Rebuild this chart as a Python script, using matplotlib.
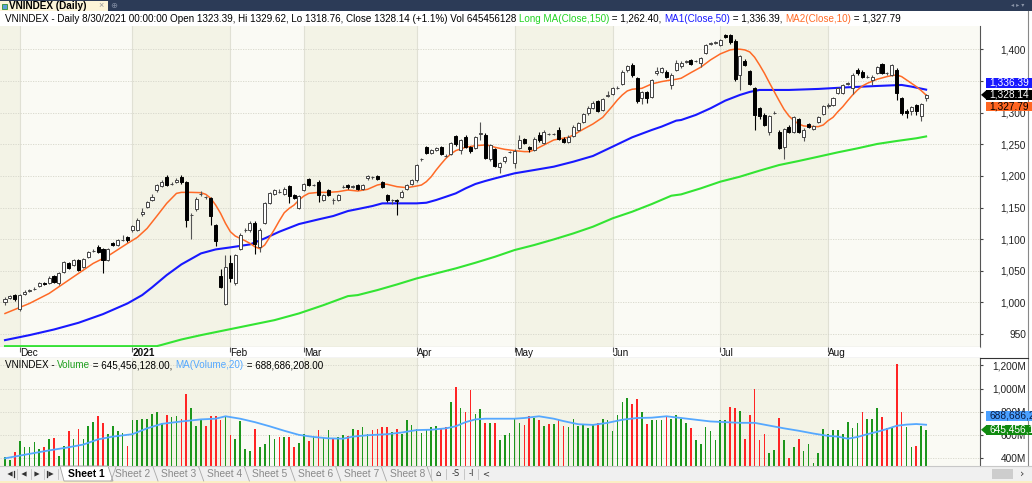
import numpy as np
import matplotlib
matplotlib.use('Agg')
import matplotlib.pyplot as plt
from matplotlib.patches import Rectangle, Polygon
from matplotlib.ticker import FixedLocator, FuncFormatter

W, H = 1032, 483
plt.rcParams['font.family'] = ['Liberation Sans', 'DejaVu Sans']

# ---- daily candles, one per trading day (26 Nov 2020 .. 30 Aug 2021) ----
opens = [1001, 1007, 1012, 989, 1013, 1018, 1022, 1026, 1030, 1031,
         1041, 1030, 1048, 1062, 1059, 1067, 1056, 1072, 1082, 1088,
         1084, 1067, 1094, 1091, 1099, 1103, 1114, 1115, 1140, 1151,
         1162, 1177, 1184, 1199, 1188, 1191, 1199, 1190, 1138, 1147,
         1171, 1166, 1165, 1122, 1041, 998, 1062, 1030, 1085, 1114,
         1114, 1126, 1088, 1126, 1157, 1172, 1175, 1172, 1184, 1170,
         1149, 1178, 1195, 1186, 1191, 1162, 1178, 1162, 1162, 1183,
         1186, 1183, 1186, 1179, 1196, 1198, 1200, 1190, 1170, 1162,
         1162, 1167, 1179, 1187, 1193, 1226, 1245, 1236, 1241, 1246,
         1232, 1235, 1263, 1241, 1262, 1245, 1244, 1267, 1265, 1226,
         1242, 1214, 1223, 1238, 1221, 1244, 1258, 1246, 1241, 1265,
         1252, 1266, 1266, 1273, 1259, 1254, 1263, 1273, 1286, 1299,
         1308, 1318, 1304, 1327, 1330, 1339, 1345, 1367, 1376, 1355,
         1323, 1333, 1325, 1362, 1365, 1365, 1344, 1368, 1373, 1380,
         1383, 1382, 1378, 1394, 1409, 1410, 1407, 1423, 1422, 1414,
         1360, 1382, 1366, 1339, 1307, 1297, 1270, 1300, 1270, 1246,
         1278, 1270, 1290, 1262, 1282, 1274, 1286, 1298, 1310, 1312,
         1331, 1331, 1346, 1339, 1368, 1365, 1357, 1352, 1363, 1377,
         1362, 1360, 1368, 1323, 1303, 1302, 1312, 1295, 1323.39]
highs = [1008, 1012, 1014, 1014, 1019, 1021, 1024, 1032, 1032, 1041,
         1043, 1048, 1066, 1064, 1069, 1069, 1070, 1082, 1085, 1090,
         1086, 1086, 1096, 1101, 1107, 1105, 1123, 1133, 1150, 1160,
         1172, 1188, 1193, 1201, 1190, 1196, 1201, 1192, 1141, 1166,
         1176, 1169, 1167, 1124, 1053, 1075, 1075, 1077, 1109, 1117,
         1128, 1128, 1117, 1159, 1175, 1179, 1180, 1182, 1186, 1172,
         1170, 1189, 1197, 1188, 1193, 1172, 1180, 1165, 1172, 1185,
         1188, 1186, 1188, 1188, 1202, 1200, 1202, 1192, 1172, 1164,
         1164, 1177, 1188, 1195, 1219, 1229, 1247, 1243, 1246, 1248,
         1234, 1254, 1265, 1258, 1264, 1247, 1263, 1286, 1268, 1251,
         1244, 1222, 1232, 1240, 1242, 1265, 1260, 1248, 1261, 1270,
         1272, 1268, 1268, 1278, 1261, 1264, 1280, 1285, 1300, 1310,
         1318, 1320, 1323, 1334, 1341, 1342, 1367, 1375, 1378, 1357,
         1335, 1335, 1353, 1372, 1372, 1367, 1362, 1383, 1381, 1383,
         1385, 1384, 1388, 1409, 1412, 1413, 1417, 1425, 1424, 1416,
         1391, 1385, 1368, 1341, 1309, 1299, 1297, 1303, 1272, 1276,
         1280, 1295, 1292, 1275, 1284, 1281, 1295, 1312, 1315, 1325,
         1341, 1346, 1349, 1362, 1370, 1367, 1359, 1359, 1374, 1379,
         1364, 1377, 1370, 1325, 1305, 1311, 1314, 1315, 1329.62]
lows = [996, 1005, 1003, 987, 1011, 1016, 1020, 1024, 1027, 1029,
        1030, 1028, 1046, 1053, 1057, 1050, 1054, 1070, 1080, 1078,
        1047, 1065, 1089, 1089, 1097, 1096, 1112, 1113, 1137, 1149,
        1160, 1175, 1182, 1184, 1186, 1189, 1188, 1120, 1100, 1145,
        1168, 1164, 1122, 1089, 1023, 996, 1033, 1028, 1083, 1112,
        1112, 1076, 1080, 1124, 1155, 1170, 1173, 1170, 1157, 1163,
        1147, 1176, 1184, 1184, 1159, 1160, 1168, 1155, 1160, 1181,
        1180, 1181, 1177, 1177, 1193, 1195, 1193, 1181, 1158, 1155,
        1138, 1165, 1177, 1185, 1191, 1224, 1235, 1234, 1239, 1233,
        1230, 1233, 1248, 1235, 1244, 1236, 1242, 1257, 1226, 1224,
        1214, 1205, 1221, 1236, 1213, 1242, 1250, 1238, 1239, 1254,
        1250, 1264, 1264, 1256, 1252, 1252, 1261, 1271, 1284, 1297,
        1306, 1301, 1302, 1325, 1328, 1337, 1343, 1365, 1357, 1316,
        1314, 1315, 1323, 1360, 1363, 1355, 1337, 1366, 1371, 1378,
        1375, 1380, 1372, 1392, 1407, 1408, 1405, 1418, 1409, 1350,
        1336, 1374, 1344, 1273, 1290, 1279, 1265, 1298, 1242, 1226,
        1268, 1268, 1268, 1255, 1275, 1272, 1284, 1296, 1308, 1310,
        1329, 1329, 1344, 1330, 1360, 1355, 1355, 1343, 1361, 1361,
        1360, 1358, 1320, 1297, 1292, 1297, 1297, 1287, 1318.76]
closes = [1006, 1010, 1005, 1012, 1017, 1019, 1022, 1030, 1029, 1039,
          1032, 1046, 1064, 1055, 1067, 1052, 1068, 1080, 1082, 1080,
          1067, 1084, 1091, 1099, 1099, 1098, 1121, 1131, 1143, 1158,
          1167, 1186, 1191, 1186, 1188, 1194, 1190, 1131, 1138, 1164,
          1172, 1166, 1137, 1097, 1025, 1056, 1038, 1075, 1107, 1115,
          1126, 1093, 1115, 1157, 1173, 1177, 1175, 1179, 1168, 1165,
          1168, 1187, 1186, 1186, 1170, 1170, 1170, 1162, 1170, 1183,
          1182, 1184, 1179, 1186, 1200, 1198, 1195, 1183, 1162, 1162,
          1161, 1175, 1186, 1193, 1217, 1226, 1237, 1241, 1244, 1235,
          1232, 1252, 1250, 1256, 1246, 1240, 1261, 1268, 1228, 1249,
          1216, 1220, 1230, 1238, 1240, 1257, 1252, 1242, 1259, 1256,
          1270, 1266, 1266, 1258, 1254, 1262, 1278, 1283, 1298, 1308,
          1316, 1303, 1321, 1328, 1339, 1339, 1365, 1373, 1359, 1318,
          1333, 1323, 1351, 1366, 1370, 1357, 1360, 1378, 1379, 1381,
          1377, 1382, 1386, 1407, 1410, 1411, 1415, 1420, 1411, 1354,
          1389, 1376, 1346, 1296, 1295, 1281, 1295, 1300, 1244, 1274,
          1270, 1293, 1270, 1273, 1277, 1279, 1293, 1310, 1312, 1323,
          1339, 1344, 1347, 1360, 1362, 1357, 1357, 1357, 1372, 1363,
          1362, 1375, 1331, 1299, 1299, 1309, 1302, 1313, 1328.14]

# volume, millions of shares
volume = [409, 385, 453, 548, 495, 498, 539, 480, 498, 569,
          578, 421, 510, 634, 563, 652, 563, 676, 711, 764,
          705, 607, 676, 631, 622, 510, 732, 732, 741, 741,
          785, 800, 705, 770, 756, 764, 735, 954, 830, 676,
          735, 676, 764, 764, 726, 764, 599, 569, 717, 480,
          465, 652, 498, 519, 599, 563, 584, 584, 584, 498,
          533, 607, 548, 593, 646, 578, 643, 578, 584, 599,
          593, 652, 646, 667, 607, 646, 652, 667, 667, 628,
          652, 607, 726, 687, 652, 622, 652, 667, 681, 652,
          667, 883, 1013, 836, 800, 984, 785, 821, 702, 702,
          702, 554, 599, 622, 735, 702, 687, 764, 747, 726,
          676, 696, 696, 726, 676, 673, 735, 681, 687, 658,
          687, 702, 741, 726, 637, 776, 883, 919, 865, 910,
          800, 696, 726, 726, 726, 756, 735, 776, 741, 702,
          658, 554, 527, 673, 637, 554, 726, 726, 839, 830,
          809, 563, 776, 993, 557, 607, 444, 474, 750, 554,
          406, 498, 563, 465, 524, 361, 450, 652, 613, 643,
          643, 613, 711, 658, 702, 800, 741, 741, 830, 756,
          658, 673, 1209, 794, 673, 495, 510, 676, 645.456]

# moving averages (day index, value)
ma150_x = [0, 10, 20, 28, 31, 32, 36, 40, 45, 50, 55, 60, 65, 70, 72, 76, 80,
           84, 88, 92, 96, 100, 104, 108, 112, 116, 120, 124, 128, 132, 136,
           138, 142, 146, 150, 154, 158, 162, 166, 170, 174, 178, 182, 186, 188]
ma150_v = [905, 912, 920, 926, 929.5, 932.9, 941.4, 948.3, 956.2, 964.1, 972.0,
           982.6, 995.7, 1010.0, 1011.6, 1019.5, 1028.4, 1037.9, 1045.9, 1053.8,
           1062.7, 1072.2, 1082.8, 1090.7, 1099.6, 1109.1, 1119.7, 1132.9, 1143.4,
           1155.5, 1168.7, 1170.8, 1180.3, 1190.9, 1198.8, 1208.3, 1217.2, 1223.6,
           1230.4, 1237.3, 1243.6, 1250.5, 1255.2, 1259.5, 1262.40]

ma50_x = [0, 5, 10, 15, 20, 25, 28, 30, 33, 36, 40, 43, 46, 50, 53, 56, 60, 64,
          67, 70, 72, 75, 77, 80, 84, 86, 88, 90, 92, 94, 96, 98, 100, 104, 108,
          112, 116, 120, 124, 128, 132, 134, 137, 138, 141, 144, 147, 150, 152,
          154, 160, 166, 172, 178, 183, 185, 188]
ma50_v = [940.4, 948.3, 957.2, 967.8, 981.5, 998.4, 1011.6, 1023.7, 1043.2,
          1060.1, 1077.5, 1083.8, 1087.0, 1091.7, 1101.2, 1111.8, 1123.9, 1131.3,
          1136.6, 1144.5, 1147.6, 1152.4, 1156.6, 1156.6, 1156.6, 1157.6, 1161.9,
          1167.1, 1172.4, 1180.3, 1187.2, 1191.9, 1196.1, 1204.1, 1209.3, 1214.6,
          1222.5, 1231.5, 1246.2, 1261.0, 1272.6, 1277.9, 1287.4, 1288.4, 1296.4,
          1306.9, 1319.0, 1328.0, 1332.8, 1335.9, 1335.9, 1337.5, 1340.1, 1342.2,
          1343.8, 1341.2, 1336.39]

ma10_x = [0, 5, 9, 14, 18, 21, 25, 27, 29, 31, 33, 35, 36, 38, 40, 41, 42, 43,
          44, 45, 46, 47, 48, 49, 50, 51, 52, 53, 54, 55, 56, 57, 58, 59, 60, 61,
          62, 64, 66, 68, 70, 72, 74, 76, 77, 78, 80, 82, 84, 85, 86, 87, 88, 89,
          90, 91, 92, 94, 96, 98, 99, 100, 102, 104, 106, 107, 108, 110, 112, 114,
          115, 116, 118, 120, 122, 123, 124, 125, 126, 127, 128, 130, 132, 134,
          136, 137, 138, 140, 142, 144, 146, 148, 149, 150, 151, 152, 153, 154,
          155, 156, 157, 158, 159, 160, 161, 162, 163, 165, 166, 167, 168, 169,
          170, 171, 172, 173, 174, 175, 176, 178, 180, 181, 182, 183, 184, 185,
          186, 187, 188]
ma10_v = [982.5, 998.4, 1014.2, 1040.6, 1061.7, 1073.3, 1093.3, 1102.8, 1117.0,
          1136.6, 1156.6, 1172.4, 1174.0, 1174.0, 1173.5, 1170.8, 1164.5, 1153.9,
          1140.8, 1125.0, 1111.8, 1104.9, 1101.2, 1097.5, 1093.3, 1088.0, 1084.9,
          1090.7, 1102.8, 1115.5, 1129.2, 1141.8, 1148.7, 1153.9, 1161.9, 1168.2,
          1172.4, 1174.0, 1174.0, 1175.1, 1177.7, 1176.1, 1178.8, 1185.6, 1187.2,
          1186.7, 1183.0, 1181.4, 1184.0, 1185.6, 1190.9, 1198.8, 1209.3, 1218.8,
          1227.8, 1234.7, 1240.0, 1245.2, 1247.8, 1248.9, 1247.8, 1245.2, 1242.0,
          1240.0, 1238.4, 1238.4, 1241.0, 1248.9, 1256.8, 1259.5, 1261.0, 1264.7,
          1273.7, 1282.1, 1292.6, 1301.6, 1310.6, 1320.1, 1328.0, 1334.3, 1337.0,
          1338.5, 1345.4, 1349.1, 1351.7, 1352.8, 1354.4, 1363.3, 1371.8, 1383.4,
          1392.9, 1399.2, 1400.3, 1400.3, 1399.2, 1396.0, 1387.6, 1375.5, 1362.3,
          1347.5, 1333.3, 1319.0, 1305.3, 1294.8, 1287.4, 1282.1, 1279.0, 1277.9,
          1277.9, 1280.5, 1287.4, 1292.6, 1301.6, 1309.5, 1319.0, 1328.0, 1335.9,
          1342.2, 1346.4, 1352.8, 1357.0, 1358.6, 1359.6, 1357.0, 1351.7, 1346.4,
          1341.2, 1334.9, 1327.79]

vma_x = [0, 5, 9, 13, 16, 19, 22, 26, 29, 32, 36, 40, 43, 45, 48, 51, 54, 57,
         60, 63, 66, 69, 71, 74, 78, 81, 84, 87, 90, 92, 94, 96, 98, 100, 102,
         104, 106, 109, 112, 114, 117, 120, 123, 126, 129, 132, 135, 138, 141,
         144, 147, 150, 153, 156, 159, 162, 165, 168, 170, 172, 174, 176, 178,
         180, 182, 184, 186, 188]
vma_v = [400, 438.5, 468, 495, 518.5, 563, 586.7, 607.4, 657.8, 696.3, 717,
         734.8, 740.7, 761.5, 740.7, 711.1, 675.6, 637, 601.5, 583.7, 571.9,
         568.9, 586.7, 598.5, 607.4, 622.2, 643, 645.9, 657.8, 675.6, 711.1,
         734.8, 740.7, 740.7, 740.7, 740.7, 746.7, 761.5, 740.7, 720, 693.3,
         687.4, 705.2, 731.9, 746.7, 749.6, 761.5, 746.7, 731.9, 717, 711.1,
         705.2, 705.2, 681.5, 657.8, 637, 613.3, 592.6, 586.7, 568.9, 583.7,
         607.4, 628.1, 651.9, 680, 690, 695, 688.686]

month_idx = [3, 26, 46, 61, 84, 104, 124, 146, 168]
month_lbl = ['Dec', '2021', 'Feb', 'Mar', 'Apr', 'May', 'Jun', 'Jul', 'Aug']
price_ticks = [950, 1000, 1050, 1100, 1150, 1200, 1250, 1300, 1350, 1400]
vol_ticks = [400, 600, 800, 1000, 1200]

BEIGE = '#f3f3e6'
LIGHT = '#fafaf4'
GREEN_MA = '#33e433'
BLUE_MA = '#1818ff'
ORANGE_MA = '#ff6a26'
VMA_COL = '#55a8ff'

fig = plt.figure(figsize=(W / 100, H / 100), dpi=100)
fig.patch.set_facecolor('white')


def fx(px):
    return px / W


def fy(py):
    return 1 - py / H


X0, X1 = -1.02, 199.0
Y0, Y1 = 930, 1437
V0, V1 = 334, 1260
P_TOP, P_BOT, S_BOT, V_BOT = 26, 346.7, 358.3, 466

ax = fig.add_axes([0, fy(P_BOT), fx(980), (P_BOT - P_TOP) / H])
strip = fig.add_axes([0, fy(S_BOT), fx(980), (S_BOT - P_BOT) / H])
axv = fig.add_axes([0, fy(V_BOT), fx(980), (V_BOT - S_BOT) / H])

bounds = [X0] + month_idx + [X1]


def bands(a):
    for k in range(len(bounds) - 1):
        a.axvspan(bounds[k], bounds[k + 1], color=BEIGE if k % 2 == 0 else LIGHT,
                  lw=0, zorder=0)
    for m in month_idx:
        a.axvline(m, color='#e0e0d4', lw=0.8, zorder=0.5)


def right_axis(a, ticks, fmt):
    a.set_xticks([])
    a.yaxis.tick_right()
    a.yaxis.set_major_locator(FixedLocator(ticks))
    a.yaxis.set_major_formatter(FuncFormatter(fmt))
    a.tick_params(axis='y', length=2.5, width=0.8, color='#444444', labelsize=7.3,
                  labelcolor='#222222', pad=(1025 - 980 - 2.5) * 0.72)
    plt.setp(a.get_yticklabels(), ha='right')
    for t in ticks:
        a.axhline(t, color='#d6d6ca', lw=0.6, ls=(0, (1.5, 1.5)), zorder=0.6)
    for s in ['top', 'left']:
        a.spines[s].set_visible(False)
    a.spines['right'].set_color('#555555')
    a.spines['bottom'].set_color('#999999')


# ---- price panel ----
bands(ax)
x = np.arange(len(closes))
o, hi, lo, c = (np.array(v, dtype=float) for v in (opens, highs, lows, closes))
up = c >= o
ax.plot(ma150_x, np.maximum(ma150_v, Y0 + 0.9), color=GREEN_MA, lw=1.5, zorder=2)
ax.plot(ma50_x, ma50_v, color=BLUE_MA, lw=1.5, zorder=2)
ax.plot(ma10_x, ma10_v, color=ORANGE_MA, lw=1.1, zorder=2)
ax.vlines(x, lo, hi, colors=['#555555' if u else '#000000' for u in up], lw=0.8, zorder=3)
ax.bar(x, np.abs(c - o), bottom=np.minimum(o, c), width=0.62,
       color=['white' if u else 'black' for u in up],
       edgecolor=['#444444' if u else 'black' for u in up], lw=0.7, zorder=4)
ax.set_xlim(X0, X1)
ax.set_ylim(Y0, Y1)
right_axis(ax, price_ticks, lambda v, p: f'{v:,.0f}')

# ---- date strip ----
strip.set_facecolor('white')
strip.set_xlim(X0, X1)
strip.set_ylim(0, 1)
strip.set_yticks([])
strip.set_xticks(month_idx)
strip.set_xticklabels(month_lbl)
strip.tick_params(axis='x', direction='in', top=True, bottom=False, length=3.5,
                  width=0.8, color='#555555', labelsize=7.2, labelcolor='#111111', pad=-7.6)
plt.setp(strip.get_xticklabels(), ha='left')
strip.get_xticklabels()[1].set_fontweight('bold')
for s in ['left', 'right', 'top']:
    strip.spines[s].set_visible(False)
strip.spines['bottom'].set_color('#333333')

# ---- volume panel ----
bands(axv)
vcol = ['#1c961c' if (k == 0 and c[k] >= o[k]) or (k > 0 and c[k] >= c[k - 1]) else '#ff2424'
        for k in range(len(closes))]
axv.bar(x, volume, width=0.34, color=vcol, zorder=3)
axv.plot(vma_x, vma_v, color=VMA_COL, lw=1.3, zorder=4)
axv.set_xlim(X0, X1)
axv.set_ylim(V0, V1)
right_axis(axv, vol_ticks, lambda v, p: f'{v:,.0f}M')
axv.spines['bottom'].set_visible(False)

# ---- value tags on the right ----
fig.canvas.draw()
r = fig.canvas.get_renderer()


def tag(a, val, text, bg, fg, dy=0.0, hgt=9.5, arrow=False):
    yd = a.transData.transform((0, val))[1] + dy
    yc = H - yd
    fig.add_artist(Rectangle((fx(986), fy(yc + hgt / 2)), fx(W - 986), hgt / H,
                             transform=fig.transFigure, color=bg, lw=0, zorder=10))
    if arrow:
        fig.add_artist(Polygon([(fx(981), fy(yc)), (fx(986.5), fy(yc - hgt / 2)),
                                (fx(986.5), fy(yc + hgt / 2))], closed=True,
                               transform=fig.transFigure, color=bg, lw=0, zorder=10))
    fig.text(fx(989), fy(yc), text, color=fg, fontsize=7.3, va='center', ha='left',
             zorder=11)


tag(ax, closes[-1], f'{closes[-1]:,.2f}', 'black', 'white', arrow=True)
tag(ax, closes[-1], f'{ma50_v[-1]:,.2f}', BLUE_MA, 'white', dy=12.0)
tag(ax, closes[-1], f'{ma10_v[-1]:,.2f}', '#ff6622', 'black', dy=-11.5)
tag(axv, volume[-1], '645,456,128', '#108a10', 'white', arrow=True)
tag(axv, volume[-1], '688,686,208', '#4aa0ff', '#0a1a40', dy=14.0, hgt=10.5)


# ---- header texts ----
def text_w(s, size, weight='normal'):
    t = fig.text(0, 0, s, fontsize=size, fontweight=weight)
    w = t.get_window_extent(renderer=r).width
    t.remove()
    return w


def chain(x0, yc, pieces, width):
    full = ''.join(s for s, _ in pieces)
    size = 7.0 * width / text_w(full, 7.0)
    ref = text_w('|', size)
    prefix = ''
    for s, col in pieces:
        off = text_w(prefix + '|', size) - ref if prefix else 0.0
        fig.text(fx(x0 + off), fy(yc), s, color=col, fontsize=size, va='center',
                 ha='left', zorder=12)
        prefix += s


chain(5, 18.5, [
    ('VNINDEX - Daily 8/30/2021 00:00:00 Open 1323.39, Hi 1329.62, Lo 1318.76, '
     'Close 1328.14 (+1.1%) Vol 645456128 ', '#000000'),
    ('Long MA(Close,150)', '#22d422'),
    (' = 1,262.40, ', '#000000'),
    ('MA1(Close,50)', BLUE_MA),
    (' = 1,336.39, ', '#000000'),
    ('MA2(Close,10)', ORANGE_MA),
    (' = 1,327.79', '#000000')], 893)

chain(5, 365, [
    ('VNINDEX - ', '#000000'),
    ('Volume', '#20a020'),
    (' = 645,456,128.00, ', '#000000'),
    ('MA(Volume,20)', VMA_COL),
    (' = 688,686,208.00', '#000000')], 318)

# ---- window chrome: top tab strip ----
fig.add_artist(Rectangle((0, fy(11)), 1, 11 / H, transform=fig.transFigure,
                         color='#2c3b57', lw=0, zorder=0))
fig.add_artist(Rectangle((0, fy(11)), fx(108), 10 / H, transform=fig.transFigure,
                         color='#fcf4d8', lw=0, zorder=1))
fig.add_artist(Rectangle((fx(1.5), fy(8.5)), fx(5), 5 / H, transform=fig.transFigure,
                         facecolor='#5aa0d8', edgecolor='#2f8f2f', lw=0.6, zorder=2))
fig.text(fx(9), fy(5.8), 'VNINDEX (Daily)', fontsize=7.2, fontweight='bold',
         color='#000000', va='center', ha='left')
fig.text(fx(101), fy(5.8), '\u00d7', fontsize=6.5, color='#999999', va='center', ha='center')
fig.text(fx(114), fy(5.8), '\u2295', fontsize=6, color='#7f8aa0', va='center', ha='center',
         family='DejaVu Sans')
fig.text(fx(1018), fy(5.8), '\u25c2 \u25b8 \u25be', fontsize=4.5, color='#8a94a8',
         va='center', ha='center', family='DejaVu Sans')

# right border of the chart window
fig.add_artist(plt.Line2D([fx(1027.5), fx(1027.5)], [fy(11), fy(466)],
                          transform=fig.transFigure, color='#888888', lw=0.8))
fig.add_artist(plt.Line2D([fx(980), fx(1027.5)], [fy(S_BOT), fy(S_BOT)],
                          transform=fig.transFigure, color='#333333', lw=0.8))

# ---- bottom sheet tabs ----
fig.add_artist(Rectangle((0, fy(481)), 1, 15 / H, transform=fig.transFigure,
                         color='#f0f0f0', lw=0, zorder=0))
fig.add_artist(Rectangle((0, 0), 1, 2 / H, transform=fig.transFigure,
                         color='#fbefc4', lw=0, zorder=0))
fig.add_artist(plt.Line2D([0, 1], [fy(466), fy(466)], transform=fig.transFigure,
                          color='#c8c8c8', lw=0.8))
yb = 474
tri = 2.6
for cx, d, bar in [(10, -1, True), (24, -1, False), (37, 1, False), (51, 1, True)]:
    fig.add_artist(Polygon([(fx(cx - d * tri), fy(yb - tri)), (fx(cx - d * tri), fy(yb + tri)),
                            (fx(cx + d * tri), fy(yb))], closed=True,
                           transform=fig.transFigure, color='#333333', lw=0))
    if bar:
        bx = cx - d * (tri + 1.2)
        fig.add_artist(plt.Line2D([fx(bx), fx(bx)], [fy(yb - tri), fy(yb + tri)],
                                  transform=fig.transFigure, color='#333333', lw=0.9))
for sx in [17, 30.5, 44, 58]:
    fig.add_artist(plt.Line2D([fx(sx), fx(sx)], [fy(469), fy(479)],
                              transform=fig.transFigure, color='#c0c0c0', lw=0.6))
fig.add_artist(Polygon([(fx(60), fy(466)), (fx(108), fy(466)), (fx(113), fy(481)),
                        (fx(64), fy(481))], closed=True, transform=fig.transFigure,
                       facecolor='white', edgecolor='#a0a0a0', lw=0.6))
fig.text(fx(86), fy(474), 'Sheet 1', fontsize=7.4, fontweight='bold', color='#000000',
         va='center', ha='center')
for k in range(7):
    cx = 133 + 45.7 * k
    fig.text(fx(cx), fy(474), f'Sheet {k + 2}', fontsize=7.4, color='#8a8a8a',
             va='center', ha='center')
    sx = cx + 20
    fig.add_artist(plt.Line2D([fx(sx), fx(sx + 5)], [fy(467), fy(481)],
                              transform=fig.transFigure, color='#a8a8a8', lw=0.6))
fig.add_artist(plt.Line2D([fx(111), fx(116)], [fy(481), fy(467)],
                          transform=fig.transFigure, color='#a8a8a8', lw=0.6))
for cx, s in [(438, '\u2302'), (456, '-S'), (471, '-I'), (486, '<')]:
    fig.text(fx(cx), fy(474), s, fontsize=6, color='#333333', va='center', ha='center',
             family='DejaVu Sans')
for sx in [431, 446, 464, 478]:
    fig.add_artist(plt.Line2D([fx(sx), fx(sx)], [fy(469), fy(479)],
                              transform=fig.transFigure, color='#c0c0c0', lw=0.6))
fig.add_artist(Rectangle((fx(992), fy(479)), fx(21), 10 / H, transform=fig.transFigure,
                         color='#cdcdcd', lw=0))
fig.text(fx(1022), fy(474), '\u203a', fontsize=8, color='#444444', va='center',
         ha='center', family='DejaVu Sans')

fig.savefig('out.png', dpi=100, facecolor='white')
